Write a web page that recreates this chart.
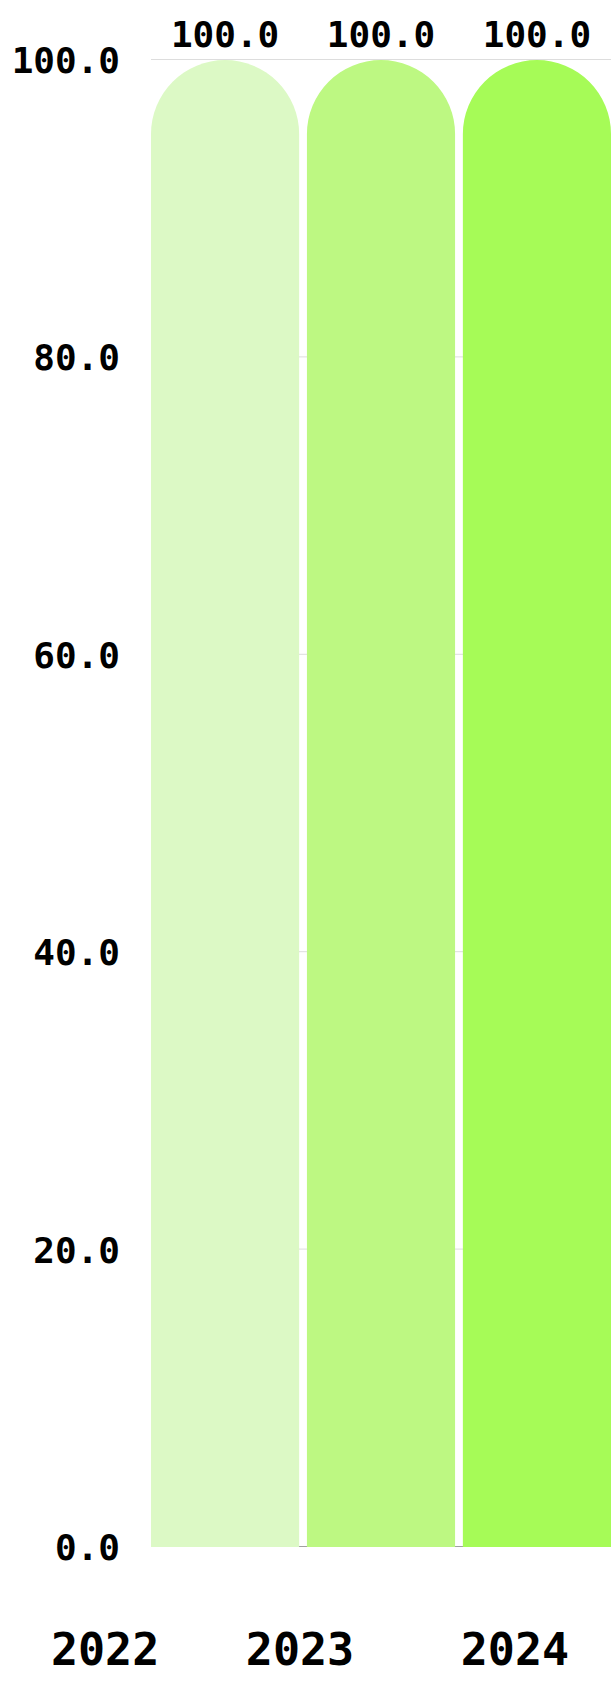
<!DOCTYPE html>
<html>
<head>
<meta charset="utf-8">
<script src="https://cdn.jsdelivr.net/npm/d3@7"></script>
<style>
  body { margin: 0; background: #fff; }
  text { font-family: 'DejaVu Sans Mono', monospace; font-weight: bold; fill: #000; }
</style>
</head>
<body>
<div id="container"></div>
<script>
const years = ['2022', '2023', '2024'];
const values = [100, 100, 100];
const barColors = ['#dcf9c5', '#bdf882', '#a6fb57'];
const yTicks = [0, 20, 40, 60, 80, 100];

const width = 615;
const height = 1687;
const margin = { top: 60, right: 4, bottom: 140, left: 151 };

// the year labels sit off-centre in the reference
const labelShift = [-120, -81, -22];

const svg = d3
  .select('#container')
  .append('svg')
  .attr('width', width)
  .attr('height', height);

const x = d3
  .scaleBand()
  .domain(years)
  .range([margin.left, width - margin.right])
  .paddingInner(0.05)
  .paddingOuter(0);

const y = d3
  .scaleLinear()
  .domain([0, 100])
  .range([height - margin.bottom, margin.top]);

// grid, drawn behind the bars
svg
  .append('g')
  .selectAll('line')
  .data(yTicks)
  .enter()
  .append('line')
  .attr('x1', margin.left)
  .attr('x2', width - margin.right)
  .attr('y1', d => y(d) - 0.5)
  .attr('y2', d => y(d) - 0.5)
  .attr('stroke', d => (d === 0 ? '#a0a0a0' : '#dddddd'))
  .attr('stroke-width', 1);

// bars with rounded tops
const bw = x.bandwidth();
const r = bw / 2;
svg
  .append('g')
  .selectAll('path')
  .data(years)
  .enter()
  .append('path')
  .attr('fill', (d, i) => barColors[i])
  .attr('d', (d, i) => {
    const x0 = x(d);
    const y0 = y(values[i]);
    const yb = y(0);
    return `M${x0},${yb}V${y0 + r}A${r},${r} 0 0 1 ${x0 + bw},${y0 + r}V${yb}Z`;
  });

// value labels
svg
  .append('g')
  .selectAll('text')
  .data(years)
  .enter()
  .append('text')
  .attr('x', d => x(d) + bw / 2)
  .attr('y', (d, i) => y(values[i]) - 13)
  .attr('text-anchor', 'middle')
  .attr('font-size', '36px')
  .text((d, i) => values[i].toFixed(1));

// y tick labels
svg
  .append('g')
  .selectAll('text')
  .data(yTicks)
  .enter()
  .append('text')
  .attr('x', margin.left - 31)
  .attr('y', d => y(d))
  .attr('dy', '0.36em')
  .attr('text-anchor', 'end')
  .attr('font-size', '36px')
  .text(d => d.toFixed(1));

// year labels
svg
  .append('g')
  .selectAll('text')
  .data(years)
  .enter()
  .append('text')
  .attr('x', (d, i) => x(d) + bw / 2 + labelShift[i])
  .attr('y', 1665)
  .attr('text-anchor', 'middle')
  .attr('font-size', '45px')
  .text(d => d);
</script>
</body>
</html>
